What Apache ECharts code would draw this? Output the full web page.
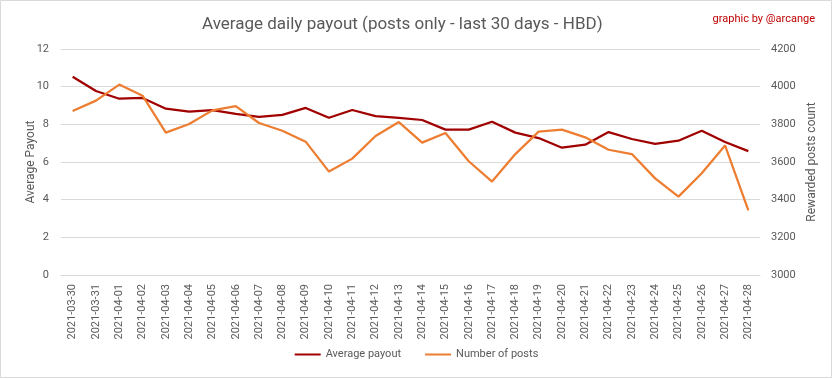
<!DOCTYPE html>
<html><head><meta charset="utf-8">
<script src="https://cdn.jsdelivr.net/npm/echarts@6/dist/echarts.min.js"></script>
<style>html,body{margin:0;padding:0;background:#fff}#c{width:833px;height:379px}</style>
</head><body><div id="c"></div>
<script>
const categories = ["2021-03-30","2021-03-31","2021-04-01","2021-04-02","2021-04-03","2021-04-04","2021-04-05","2021-04-06","2021-04-07","2021-04-08","2021-04-09","2021-04-10","2021-04-11","2021-04-12","2021-04-13","2021-04-14","2021-04-15","2021-04-16","2021-04-17","2021-04-18","2021-04-19","2021-04-20","2021-04-21","2021-04-22","2021-04-23","2021-04-24","2021-04-25","2021-04-26","2021-04-27","2021-04-28"];
const averagePayout = [10.53,9.77,9.36,9.40,8.83,8.67,8.76,8.55,8.39,8.50,8.87,8.35,8.76,8.44,8.34,8.23,7.72,7.72,8.14,7.56,7.27,6.76,6.92,7.59,7.22,6.96,7.13,7.66,7.06,6.58];
const numberOfPosts = [3871,3926,4011,3952,3756,3802,3874,3897,3807,3766,3708,3549,3618,3738,3812,3703,3754,3604,3496,3642,3761,3772,3731,3665,3642,3513,3416,3540,3688,3343];
const leftTicks = [0,2,4,6,8,10,12];
const rightTicks = [3000,3200,3400,3600,3800,4000,4200];

const font = 'Roboto, "Liberation Sans", sans-serif';
const grey = '#595959';
const chart = echarts.init(document.getElementById('c'));
chart.setOption({
  animation: false,
  backgroundColor: '#fff',
  title: [{
    text: 'Average daily payout (posts only - last 30 days - HBD)',
    left: 197, top: 11,
    textStyle: {fontFamily: font, fontSize: 17, fontWeight: 'normal', color: grey}
  }, {
    text: 'graphic by @arcange',
    right: 13, top: 9,
    textStyle: {fontFamily: font, fontSize: 11, fontWeight: 'normal', color: '#C00000'}
  }],
  graphic: [{
    type: 'rect', shape: {x: 0.5, y: 0.5, width: 831, height: 377},
    style: {fill: 'none', stroke: '#D9D9D9', lineWidth: 1}, silent: true
  }],
  legend: {
    bottom: 14, left: 'center', itemWidth: 26, itemHeight: 2, itemGap: 24,
    icon: 'rect',
    textStyle: {fontFamily: font, fontSize: 11, color: grey},
    data: ['Average payout', 'Number of posts']
  },
  grid: {left: 61, right: 73, top: 49, bottom: 104},
  xAxis: {
    type: 'category', data: categories, boundaryGap: true,
    axisLine: {lineStyle: {color: '#D9D9D9'}},
    axisTick: {show: false},
    axisLabel: {rotate: 90, color: grey, fontFamily: font, fontSize: 11, margin: 9, interval: 0}
  },
  yAxis: [{
    type: 'value', min: leftTicks[0], max: leftTicks[leftTicks.length-1], interval: 2,
    name: 'Average Payout', nameLocation: 'middle', nameGap: 24, nameRotate: 90,
    nameMoveOverlap: false,
    nameTextStyle: {color: grey, fontFamily: font, fontSize: 12},
    axisLine: {show: false}, axisTick: {show: false},
    axisLabel: {color: grey, fontFamily: font, fontSize: 11, margin: 12},
    splitLine: {lineStyle: {color: '#D9D9D9'}}
  }, {
    type: 'value', min: rightTicks[0], max: rightTicks[rightTicks.length-1], interval: 200,
    name: 'Rewarded posts count', nameLocation: 'middle', nameGap: 46, nameRotate: 90,
    nameMoveOverlap: false,
    nameTextStyle: {color: grey, fontFamily: font, fontSize: 12},
    axisLine: {show: false}, axisTick: {show: false},
    axisLabel: {color: grey, fontFamily: font, fontSize: 11, margin: 11, formatter: v => String(v)},
    splitLine: {show: false}
  }],
  series: [{
    name: 'Average payout', type: 'line', yAxisIndex: 0, data: averagePayout,
    showSymbol: false, symbol: 'none', lineStyle: {color: '#A00000', width: 2.25},
    itemStyle: {color: '#A00000'}
  }, {
    name: 'Number of posts', type: 'line', yAxisIndex: 1, data: numberOfPosts,
    showSymbol: false, symbol: 'none', lineStyle: {color: '#ED7D31', width: 2.25},
    itemStyle: {color: '#ED7D31'}
  }]
});
</script></body></html>
